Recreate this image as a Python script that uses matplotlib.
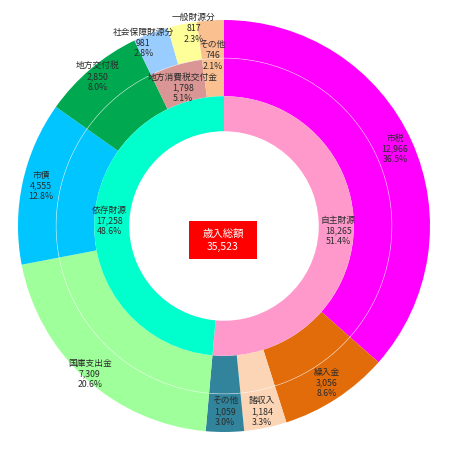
import numpy as np
import matplotlib
matplotlib.use("Agg")
import matplotlib.pyplot as plt
from matplotlib.patches import Rectangle, Circle

plt.rcParams['font.family'] = ['Noto Sans CJK JP', 'DejaVu Sans']

# ---- data ----
total_label = "歳入総額"
total_value = 35523

inner_names = ["自主財源", "依存財源"]
inner_values = [18265, 17258]
inner_colors = ["#FF99CC", "#00FFCC"]

mid_names = ["市税", "繰入金", "諸収入", "その他",
             "国庫支出金", "市債", "地方交付税", "地方消費税交付金", "その他"]
mid_values = [12966, 3056, 1184, 1059, 7309, 4555, 2850, 1798, 746]
mid_colors = ["#FF00FF", "#E36C0A", "#FBD5B5", "#31849B",
              "#9FFF9A", "#00C5FF", "#00A850", "#D99694", "#FAC090"]

# outer level: 地方消費税交付金 split into 社会保障財源分 / 一般財源分
outer_names = ["市税", "繰入金", "諸収入", "その他",
               "国庫支出金", "市債", "地方交付税", "社会保障財源分", "一般財源分", "その他"]
outer_values = [12966, 3056, 1184, 1059, 7309, 4555, 2850, 981, 817, 746]
outer_colors = ["#FF00FF", "#E36C0A", "#FBD5B5", "#31849B",
                "#9FFF9A", "#00C5FF", "#00A850", "#99CCFF", "#FFFF99", "#FAC090"]

# ---- layout ----
R_HOLE, R_IN, R_MID, R_OUT = 0.46, 0.63, 0.815, 1.0
W, H = 450, 450
cx, cy, Rpx = 224, 226, 206

fig = plt.figure(figsize=(4.5, 4.5), dpi=100)
ax = fig.add_axes([0, 0, 1, 1])
ax.set_aspect('equal')
ax.axis('off')

ax.pie(outer_values, colors=outer_colors, radius=R_OUT,
       wedgeprops=dict(width=R_OUT - R_MID, linewidth=0), startangle=90, counterclock=False)
ax.pie(mid_values, colors=mid_colors, radius=R_MID,
       wedgeprops=dict(width=R_MID - R_IN, linewidth=0), startangle=90, counterclock=False)
ax.pie(inner_values, colors=inner_colors, radius=R_IN,
       wedgeprops=dict(width=R_IN - R_HOLE, linewidth=0), startangle=90, counterclock=False)
ax.add_patch(Circle((0, 0), R_MID, fill=False, ec='white', lw=0.5, alpha=0.55))
ax.set_xlim(-cx / Rpx, (W - cx) / Rpx)
ax.set_ylim(-(H - cy) / Rpx, cy / Rpx)

tc = '#2b2b2b'
fs = 6.3


def put_label(name, val, start, r, dang=0.0):
    mid = (start + val / 2) / total_value * 360 + dang
    th = np.deg2rad(mid)
    x, y = r * np.sin(th), r * np.cos(th)
    ax.text(x, y, f"{name}\n{val:,}\n{val / total_value * 100:.1f}%",
            ha='center', va='center', fontsize=fs, color=tc, linespacing=1.25)


# inner labels
s = 0
for n, v in zip(inner_names, inner_values):
    put_label(n, v, s, 0.555)
    s += v

# outer / mid labels
label_r = {0: 0.91, 1: 0.91, 2: 0.92, 3: 0.90, 4: 0.97, 5: 0.91, 6: 0.95, 9: 0.83}
label_da = {7: -3.0, 8: 3.0}
s = 0
for i, (n, v) in enumerate(zip(outer_names, outer_values)):
    if i in (7, 8):
        put_label(n, v, s, 0.97, label_da[i])
    else:
        put_label(n, v, s, label_r[i])
    s += v

# 地方消費税交付金 label in mid ring
s_mid = sum(mid_values[:7])
put_label(mid_names[7], mid_values[7], s_mid, 0.70)

# center box
x0, x1 = (189 - cx) / Rpx, (257 - cx) / Rpx
y0, y1 = (cy - 259) / Rpx, (cy - 221) / Rpx
ax.add_patch(Rectangle((x0, y0), x1 - x0, y1 - y0, fc='#FF0000', ec='none', zorder=5))
ax.text((x0 + x1) / 2, (y0 + y1) / 2, f"{total_label}\n{total_value:,}",
        ha='center', va='center', color='white', fontsize=7.5, linespacing=1.35, zorder=6)

fig.savefig("out.png", dpi=100)
